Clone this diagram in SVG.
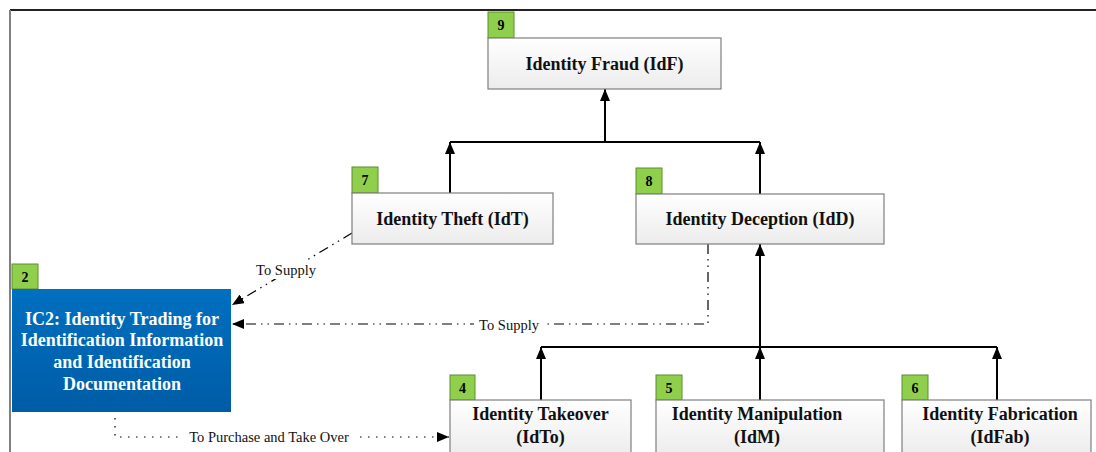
<svg xmlns="http://www.w3.org/2000/svg" width="1096" height="452" viewBox="0 0 1096 452">
  <defs>
    <linearGradient id="boxFill" x1="0" y1="0" x2="0" y2="1">
      <stop offset="0" stop-color="#ffffff"/>
      <stop offset="1" stop-color="#ececec"/>
    </linearGradient>
    <linearGradient id="blueFill" x1="0" y1="0" x2="0" y2="1">
      <stop offset="0" stop-color="#0070c0"/>
      <stop offset="1" stop-color="#005ca6"/>
    </linearGradient>
    <marker id="arrow" viewBox="0 0 12 10" refX="12" refY="5" markerWidth="12" markerHeight="10" markerUnits="userSpaceOnUse" orient="auto">
      <path d="M0,0 L12,5 L0,10 Z" fill="#000"/>
    </marker>
    <style>
      .box { fill: url(#boxFill); stroke: #7f7f7f; stroke-width: 1.2; }
      .badge { fill: #8fcf4c; stroke: #5e8c33; stroke-width: 1; }
      .badgeText { font-family: "Liberation Serif", serif; font-weight: bold; font-size: 14px; fill: #000; text-anchor: middle; }
      .label { font-family: "Liberation Serif", serif; font-weight: bold; font-size: 18px; fill: #111; text-anchor: middle; }
      .blueLabel { font-family: "Liberation Serif", serif; font-weight: bold; font-size: 18px; fill: #fff; text-anchor: middle; }
      .edge { fill: none; stroke: #000; stroke-width: 2; }
      .assoc { fill: none; stroke: #000; stroke-width: 1.2; }
      .dashdot { stroke-dasharray: 10 5 1.5 5 1.5 5; }
      .dotted { stroke-dasharray: 1.5 6.5; }
      .connLabel { font-family: "Liberation Serif", serif; font-size: 14.5px; fill: #111; text-anchor: middle; }
      .frameTop { stroke: #222; stroke-width: 2; }
      .frameLeft { stroke: #808080; stroke-width: 2; }
    </style>
  </defs>

  <rect x="0" y="0" width="1096" height="452" fill="#fff"/>

  <!-- frame -->
  <line class="frameTop" x1="10" y1="10" x2="1096" y2="10"/>
  <line class="frameLeft" x1="10" y1="10" x2="10" y2="452"/>

  <!-- hierarchy and association connectors -->
  <g id="connectors">
    <!-- Fraud <- Theft / Deception -->
    <line class="edge" x1="605" y1="142" x2="605" y2="89" marker-end="url(#arrow)"/>
    <line class="edge" x1="450" y1="142" x2="760" y2="142"/>
    <line class="edge" x1="450" y1="193" x2="450" y2="142" marker-end="url(#arrow)"/>
    <line class="edge" x1="760" y1="194" x2="760" y2="142" marker-end="url(#arrow)"/>
    <!-- Deception <- Takeover / Manipulation / Fabrication -->
    <line class="edge" x1="760" y1="347" x2="760" y2="244" marker-end="url(#arrow)"/>
    <line class="edge" x1="541" y1="347" x2="997" y2="347"/>
    <line class="edge" x1="541" y1="400" x2="541" y2="347" marker-end="url(#arrow)"/>
    <line class="edge" x1="760" y1="400" x2="760" y2="347" marker-end="url(#arrow)"/>
    <line class="edge" x1="997" y1="400" x2="997" y2="347" marker-end="url(#arrow)"/>

    <!-- Theft -> IC2 : To Supply -->
    <path class="assoc dashdot" d="M352,233 L232,305" marker-end="url(#arrow)"/>
    <rect x="252" y="261" width="68" height="18" fill="#fff"/>
    <text class="connLabel" x="286" y="275">To Supply</text>

    <!-- Deception -> IC2 : To Supply -->
    <path class="assoc dashdot" d="M708,244 L708,324 L232,324" marker-end="url(#arrow)"/>
    <rect x="474" y="316" width="70" height="17" fill="#fff"/>
    <text class="connLabel" x="509" y="330">To Supply</text>

    <!-- IC2 -> Takeover : To Purchase and Take Over -->
    <path class="assoc dotted" d="M115,418 L115,437 L449,437" marker-end="url(#arrow)"/>
    <rect x="183" y="429" width="172" height="17" fill="#fff"/>
    <text class="connLabel" x="269" y="442">To Purchase and Take Over</text>
  </g>

  <g id="node-9">
    <rect class="badge" x="488" y="12" width="26" height="26"/>
    <text class="badgeText" x="501" y="30">9</text>
    <rect class="box" x="488" y="38" width="233" height="51"/>
    <text class="label" x="604.5" y="70">Identity Fraud (IdF)</text>
  </g>

  <g id="node-7">
    <rect class="badge" x="352" y="167" width="26" height="26"/>
    <text class="badgeText" x="365" y="185">7</text>
    <rect class="box" x="352" y="193" width="201" height="51"/>
    <text class="label" x="452.5" y="225">Identity Theft (IdT)</text>
  </g>

  <g id="node-8">
    <rect class="badge" x="636" y="168" width="26" height="26"/>
    <text class="badgeText" x="649" y="186">8</text>
    <rect class="box" x="636" y="194" width="248" height="50"/>
    <text class="label" x="760" y="225">Identity Deception (IdD)</text>
  </g>

  <g id="node-2">
    <rect class="badge" x="12" y="264" width="26" height="25"/>
    <text class="badgeText" x="25" y="282">2</text>
    <rect x="12" y="289" width="219" height="123" fill="url(#blueFill)"/>
    <text class="blueLabel" x="122" y="325">IC2: Identity Trading for</text>
    <text class="blueLabel" x="122" y="346">Identification Information</text>
    <text class="blueLabel" x="122" y="368">and Identification</text>
    <text class="blueLabel" x="122" y="390">Documentation</text>
  </g>

  <g id="node-4">
    <rect class="badge" x="450" y="375" width="25" height="25"/>
    <text class="badgeText" x="462.5" y="393">4</text>
    <rect class="box" x="450" y="400" width="181" height="56"/>
    <text class="label" x="540.5" y="420">Identity Takeover</text>
    <text class="label" x="540.5" y="443">(IdTo)</text>
  </g>

  <g id="node-5">
    <rect class="badge" x="656" y="375" width="26" height="25"/>
    <text class="badgeText" x="669" y="393">5</text>
    <rect class="box" x="656" y="400" width="228" height="56"/>
    <text class="label" x="757" y="420">Identity Manipulation</text>
    <text class="label" x="757" y="443">(IdM)</text>
  </g>

  <g id="node-6">
    <rect class="badge" x="902" y="375" width="26" height="25"/>
    <text class="badgeText" x="915" y="393">6</text>
    <rect class="box" x="902" y="400" width="189" height="56"/>
    <text class="label" x="1000" y="420">Identity Fabrication</text>
    <text class="label" x="1000" y="443">(IdFab)</text>
  </g>
</svg>
